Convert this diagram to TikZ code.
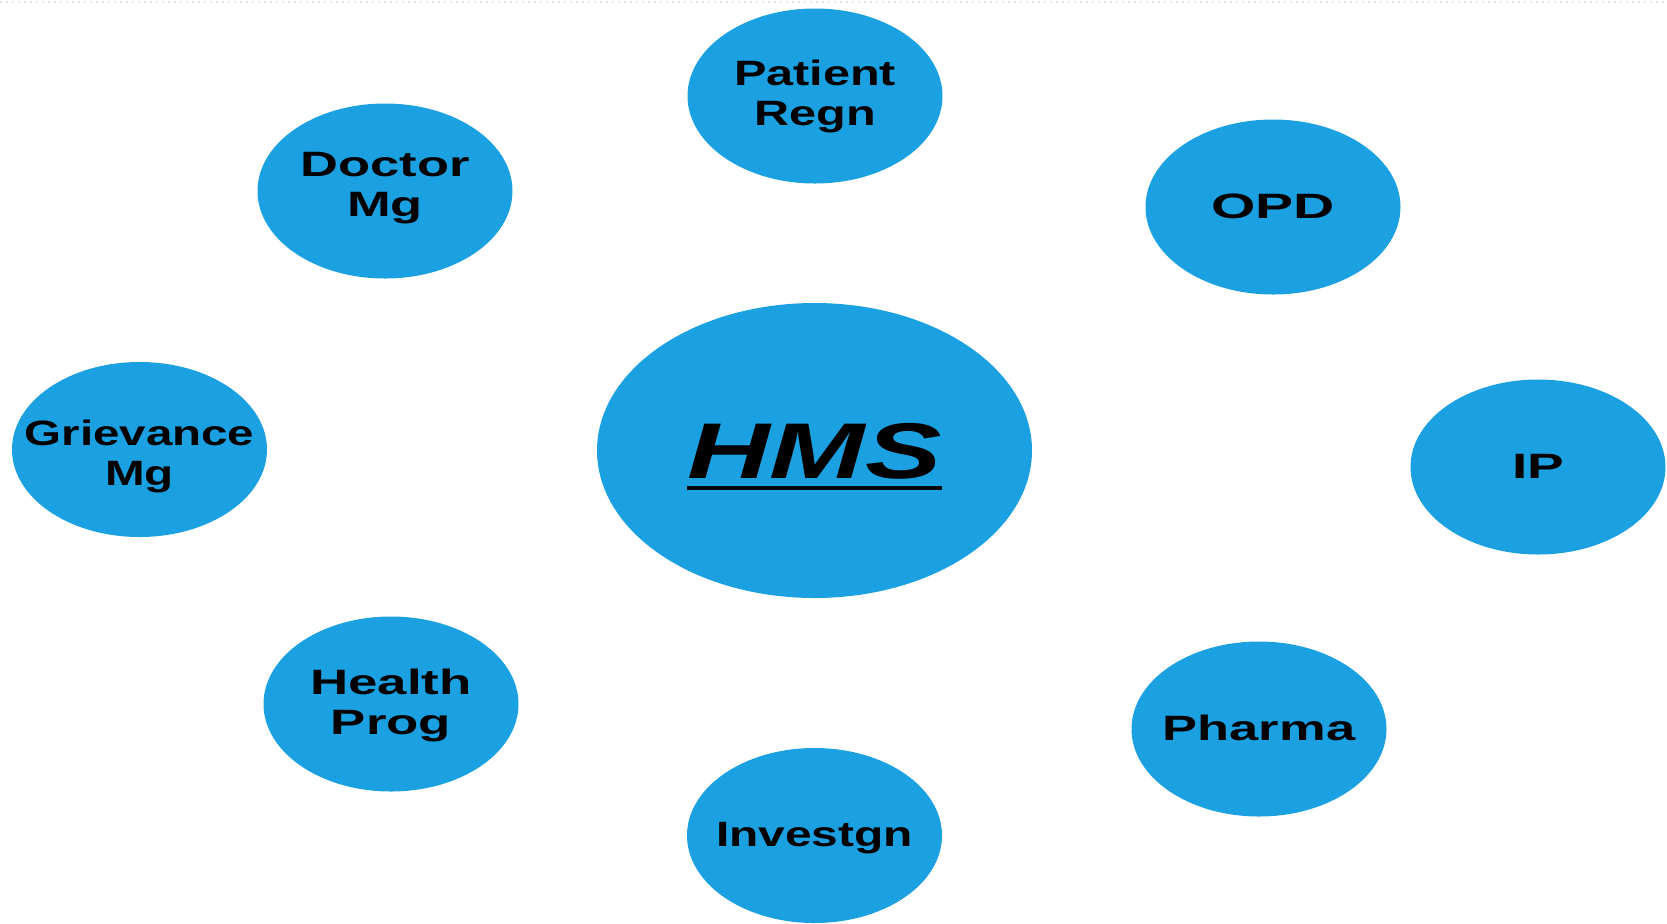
\documentclass[tikz,border=0pt]{standalone}
\usepackage{fontspec}
\usepackage{graphicx}
\setmainfont{Liberation Sans}
\usetikzlibrary{shapes.geometric}
\definecolor{bub}{HTML}{1BA1E2}
\newcommand{\bubtextr}[3]{\makebox[0pt]{\raisebox{#2}[\height][\depth]{\scalebox{#1}[1]{\fontsize{17.6}{20}\selectfont\bfseries\begin{tabular}{@{}c@{}}#3\end{tabular}}}}}
\begin{document}
\begin{tikzpicture}[x=0.5pt,y=-0.5pt,
  bubble/.style={ellipse, fill=bub, draw=none, inner sep=0pt, minimum width=127.5pt, minimum height=87.5pt},
  bigbubble/.style={ellipse, fill=bub, draw=none, inner sep=0pt, minimum width=217.5pt, minimum height=147.5pt, text depth=0pt}]
\useasboundingbox (0,0) rectangle (1667,923);
\draw[black!10, dotted, line width=1pt] (0,2) -- (1667,2);
\node[bigbubble] (hms) at (814.5,450.5) {\makebox[0pt]{\vtop{\hbox{\scalebox{1.45}[1]{\fontsize{39.5}{41}\selectfont\bfseries\itshape HMS}}\kern3.5pt\hrule height 2pt}}};
\node[bubble] (patient) at (815,96) {\bubtextr{1.38}{-0.8pt}{Patient\\Regn}};
\node[bubble] (doctor) at (385,191) {\bubtextr{1.49}{1.5pt}{Doctor\\Mg}};
\node[bubble] (opd) at (1273,207) {\bubtextr{1.62}{-1.7pt}{OPD}};
\node[bubble] (griev) at (139.5,449.5) {\bubtextr{1.35}{-4pt}{Grievance\\Mg}};
\node[bubble] (ip) at (1538,467) {\bubtextr{1.56}{-1.7pt}{IP}};
\node[bubble] (health) at (391,704) {\bubtextr{1.5}{-1pt}{Health\\Prog}};
\node[bubble] (pharma) at (1259,729) {\bubtextr{1.49}{-1.7pt}{Pharma}};
\node[bubble] (invest) at (814.5,835.5) {\bubtextr{1.36}{-1.7pt}{Investgn}};
\end{tikzpicture}
\end{document}
